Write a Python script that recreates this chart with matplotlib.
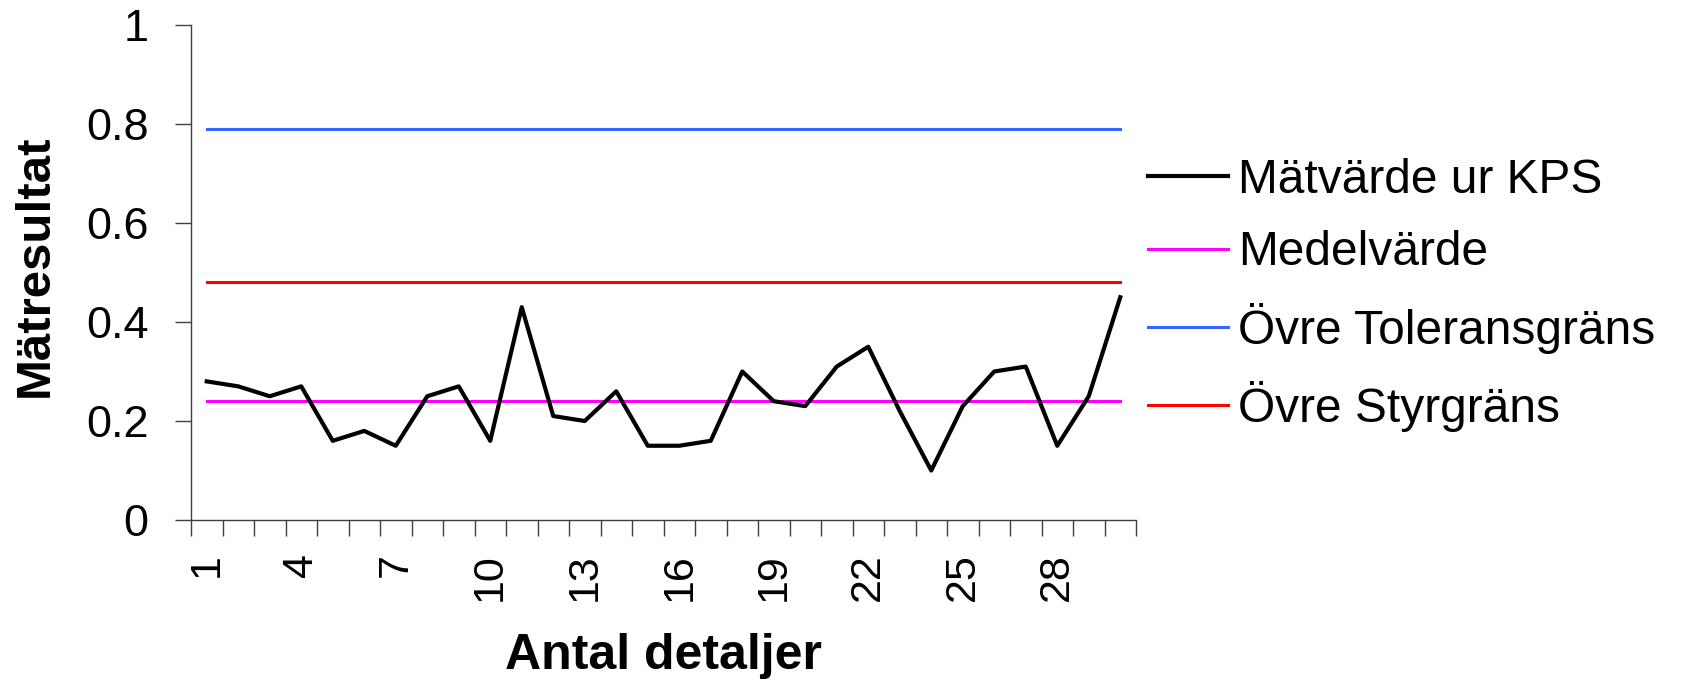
import matplotlib
matplotlib.use("Agg")
import matplotlib.pyplot as plt

# Mätvärden
detaljer = list(range(1, 31))
matvarde = [0.28, 0.27, 0.25, 0.27, 0.16, 0.18, 0.15, 0.25, 0.27, 0.16,
            0.43, 0.21, 0.20, 0.26, 0.15, 0.15, 0.16, 0.30, 0.24, 0.23,
            0.31, 0.35, 0.22, 0.10, 0.23, 0.30, 0.31, 0.15, 0.25, 0.45]
medelvarde = 0.24
tolerans = 0.79
styrgrans = 0.48
xtick_labels = [1, 4, 7, 10, 13, 16, 19, 22, 25, 28]
yticks = [0, 0.2, 0.4, 0.6, 0.8, 1]

plt.rcParams['font.family'] = ['Liberation Sans', 'DejaVu Sans']

fig = plt.figure(figsize=(16.84, 6.81), dpi=100)
ax = fig.add_axes([191 / 1684, 1 - 520 / 681, 945 / 1684, 495 / 681])

n = len(detaljer)
ax.plot(detaljer, matvarde, color='black', linewidth=3, label='Mätvärde ur KPS', zorder=5)
ax.plot(detaljer, [medelvarde] * n, color='#FF00FF', linewidth=2.2, label='Medelvärde')
ax.plot(detaljer, [tolerans] * n, color='#3366FF', linewidth=2.2, label='Övre Toleransgräns')
ax.plot(detaljer, [styrgrans] * n, color='#FF0000', linewidth=2.2, label='Övre Styrgräns')

ax.set_xlim(0.5, n + 0.5)
ax.set_ylim(0, 1)

# tick marks mellan kategorierna, etiketter på var tredje
ax.set_xticks([d - 0.5 for d in detaljer] + [n + 0.5])
ax.set_xticklabels([])
ax.set_xticks(xtick_labels, minor=True)
ax.set_xticklabels([str(v) for v in xtick_labels], minor=True, rotation=90, fontsize=31)
ax.tick_params(axis='x', which='major', length=11.5, width=1, color='#404040', direction='out')
ax.tick_params(axis='x', which='minor', length=0, pad=24)

ax.set_yticks(yticks)
ax.set_yticklabels(['0', '0.2', '0.4', '0.6', '0.8', '1'], fontsize=32.5)
ax.tick_params(axis='y', length=11.5, width=1, color='#404040', pad=19)

for s in ['top', 'right']:
    ax.spines[s].set_visible(False)
for s in ['left', 'bottom']:
    ax.spines[s].set_color('#404040')
    ax.spines[s].set_linewidth(1)

ax.set_ylabel('Mätresultat', fontsize=35.5, fontweight='bold')
ax.yaxis.set_label_coords(-0.141, 0.514)
ax.set_xlabel('Antal detaljer', fontsize=36, fontweight='bold')
ax.xaxis.set_label_coords(0.5, -0.229)

leg = ax.legend(loc='center left', bbox_to_anchor=(1.0127, 0.4545), frameon=False,
                fontsize=34.5, handlelength=1.67, handletextpad=0.21, labelspacing=0.57,
                borderaxespad=0, borderpad=0)

fig.savefig('out.png', dpi=100)
